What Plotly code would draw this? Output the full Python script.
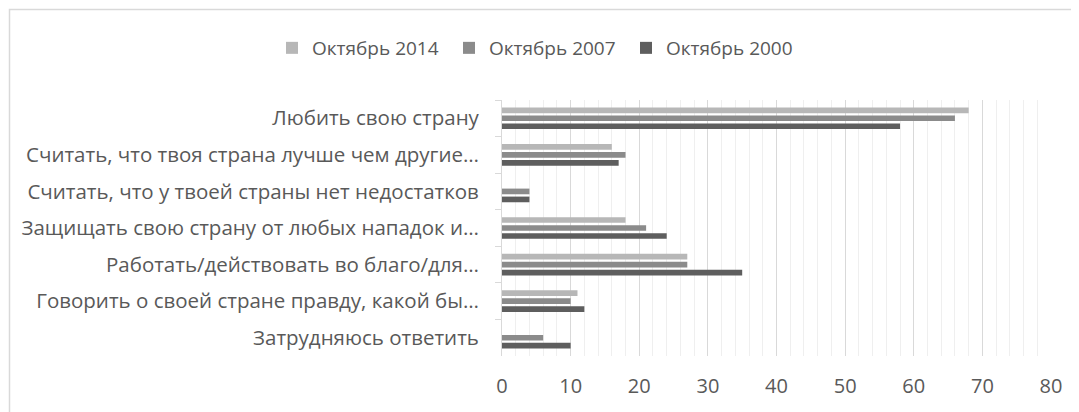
import plotly.graph_objects as go

categories = [
    "Любить свою страну",
    "Считать, что твоя страна лучше чем другие…",
    "Считать, что у твоей страны нет недостатков",
    "Защищать свою страну от любых нападок и…",
    "Работать/действовать во благо/для…",
    "Говорить о своей стране правду, какой бы…",
    "Затрудняюсь ответить",
]
series_names = ["Октябрь 2014", "Октябрь 2007", "Октябрь 2000"]
values_2014 = [68, 16, 0, 18, 27, 11, 0]
values_2007 = [66, 18, 4, 21, 27, 10, 6]
values_2000 = [58, 17, 4, 24, 35, 12, 10]
colors = ["#b7b7b7", "#8b8b8b", "#5e5e5e"]

fig = go.Figure()
for name, vals, col in zip(series_names, [values_2014, values_2007, values_2000], colors):
    fig.add_trace(go.Bar(
        y=categories, x=vals, name=name, orientation="h",
        marker=dict(color=col, line=dict(width=0)),
    ))

# page body has an 8px margin: work in screen pixels and shift
OFF = 8
W, H = 1079 - OFF, 412 - OFF
L, R, T, B = 502 - OFF, 1051 - OFF, 100 - OFF, 356 - OFF

def px_x(p):
    return (p - OFF - L) / (R - L)

def px_y(p):
    return (B - (p - OFF)) / (B - T)

fig.update_layout(
    width=W, height=H,
    margin=dict(l=L, r=W - R, t=T, b=H - B, pad=0),
    paper_bgcolor="white", plot_bgcolor="white",
    font=dict(family="Open Sans", size=19, color="#595959"),
    barmode="group", bargap=0.344, bargroupgap=0.29,
    showlegend=True,
    legend=dict(orientation="h", x=px_x(272), xanchor="left",
                y=px_y(48), yanchor="middle",
                font=dict(size=19, color="#595959"),
                traceorder="normal", itemclick=False,
                entrywidth=132, entrywidthmode="pixels"),
    xaxis=dict(range=[0, 80], dtick=10, tick0=0, showgrid=True,
               gridcolor="#d9d9d9", gridwidth=1,
               minor=dict(dtick=2, showgrid=True, gridcolor="#efefef", gridwidth=1),
               zeroline=False, showline=False, ticks="",
               tickfont=dict(size=20, color="#595959"), ticklabelstandoff=16),
    yaxis=dict(autorange="reversed", type="category", showline=True,
               linecolor="#d9d9d9", linewidth=1, ticks="outside",
               tickson="boundaries", ticklen=6, tickcolor="#d9d9d9",
               showgrid=False, tickfont=dict(size=20.5, color="#595959"),
               ticklabelstandoff=18),
    shapes=[dict(type="rect", xref="paper", yref="paper",
                 x0=px_x(9.5), x1=px_x(1095), y0=px_y(440), y1=px_y(9.5),
                 line=dict(color="#d9d9d9", width=1.5), fillcolor="rgba(0,0,0,0)",
                 layer="below")],
)

fig.write_html("out.html")
